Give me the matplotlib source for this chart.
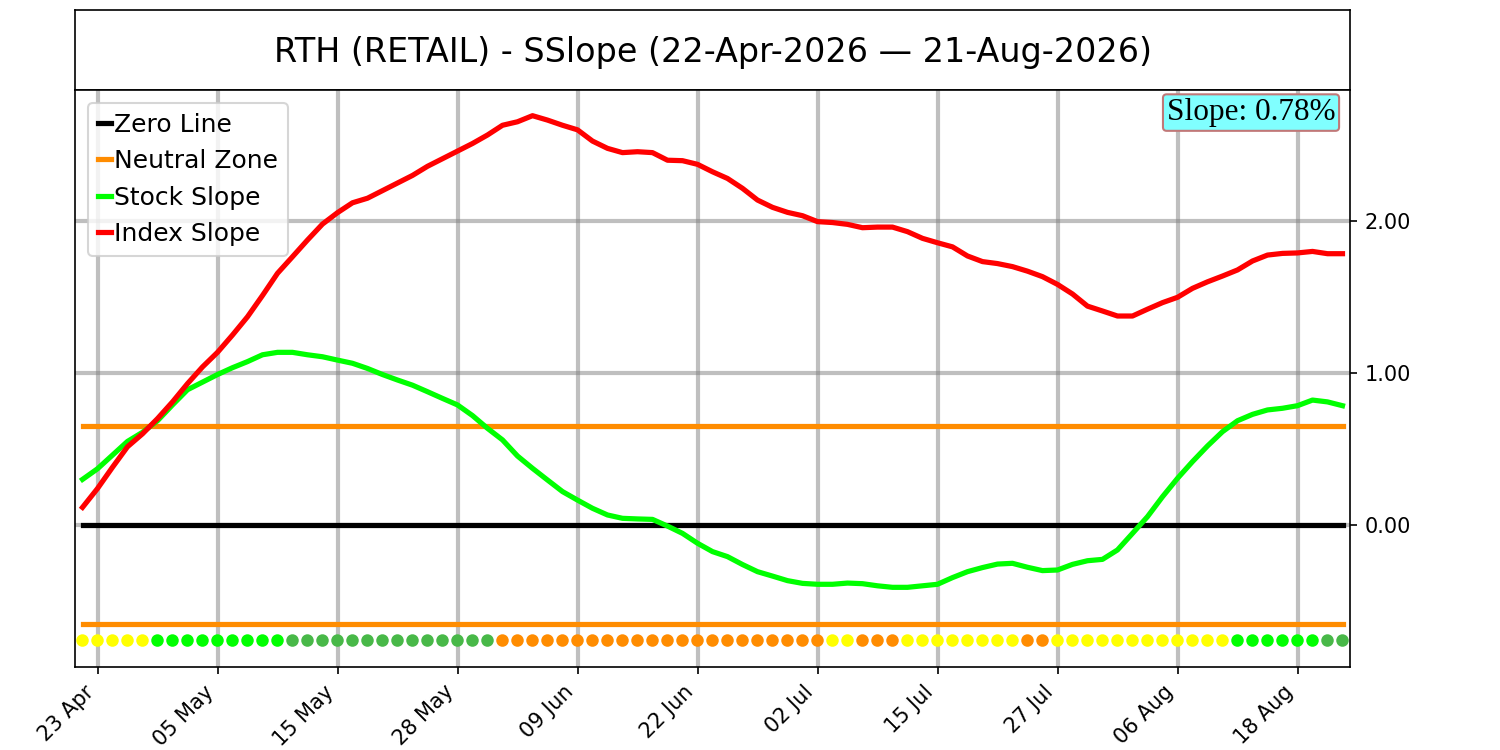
import numpy as np
import matplotlib
matplotlib.use("Agg")
import matplotlib.pyplot as plt

# trading days 22-Apr-2026 .. 21-Aug-2026 (85 sessions), ticks every 8 sessions
tick_labels = ['23 Apr', '05 May', '15 May', '28 May', '09 Jun', '22 Jun',
               '02 Jul', '15 Jul', '27 Jul', '06 Aug', '18 Aug']

stock_slope = [0.30, 0.37, 0.46, 0.55, 0.61, 0.686, 0.79, 0.89, 0.94, 0.99,
               1.035, 1.075, 1.12, 1.136, 1.136, 1.12, 1.107, 1.085, 1.064, 1.03,
               0.99, 0.954, 0.92, 0.877, 0.833, 0.79, 0.72, 0.636, 0.56, 0.454,
               0.373, 0.296, 0.22, 0.164, 0.11, 0.066, 0.044, 0.04, 0.037, -0.007,
               -0.055, -0.12, -0.175, -0.208, -0.26, -0.307, -0.336, -0.366, -0.384, -0.39,
               -0.39, -0.382, -0.386, -0.40, -0.41, -0.41, -0.40, -0.39, -0.346, -0.307,
               -0.28, -0.257, -0.252, -0.278, -0.30, -0.296, -0.259, -0.235, -0.226, -0.164,
               -0.055, 0.055, 0.186, 0.307, 0.417, 0.52, 0.614, 0.686, 0.728, 0.757,
               0.768, 0.785, 0.822, 0.81, 0.785]

index_slope = [0.116, 0.24, 0.38, 0.515, 0.60, 0.70, 0.81, 0.93, 1.04, 1.136,
               1.25, 1.37, 1.51, 1.656, 1.765, 1.875, 1.98, 2.055, 2.12, 2.15,
               2.20, 2.25, 2.30, 2.36, 2.41, 2.46, 2.51, 2.566, 2.63, 2.653,
               2.693, 2.664, 2.63, 2.60, 2.526, 2.478, 2.45, 2.456, 2.45, 2.40,
               2.397, 2.373, 2.324, 2.28, 2.215, 2.138, 2.09, 2.057, 2.035, 1.996,
               1.99, 1.978, 1.956, 1.96, 1.96, 1.93, 1.886, 1.857, 1.83, 1.77,
               1.733, 1.72, 1.70, 1.67, 1.634, 1.583, 1.52, 1.44, 1.408, 1.375,
               1.375, 1.42, 1.463, 1.498, 1.557, 1.60, 1.638, 1.678, 1.737, 1.776,
               1.787, 1.79, 1.80, 1.785, 1.785]

neutral_zone = 0.65
dot_level = -0.76
signal_runs = [('yellow', 5), ('lime', 9), ('#48b848', 14), ('darkorange', 22),
               ('yellow', 2), ('darkorange', 3), ('yellow', 8), ('darkorange', 2),
               ('yellow', 12), ('lime', 6), ('#48b848', 2)]

x = np.arange(len(stock_slope))
dot_colors = [c for c, n in signal_runs for _ in range(n)]

fig = plt.figure(figsize=(10, 5), dpi=150)

# title box
tax = fig.add_axes([0.05, 0.88, 0.85, 0.1067])
tax.set_xticks([])
tax.set_yticks([])
tax.text(0.5, 0.47, 'RTH (RETAIL) - SSlope (22-Apr-2026 \u2014 21-Aug-2026)',
         ha='center', va='center', fontsize=16, transform=tax.transAxes)

ax = fig.add_axes([0.05, 0.1107, 0.85, 0.7693])
lw = 2.5
ax.plot(x, np.zeros(len(x)), color='black', lw=lw, label='Zero Line')
ax.plot(x, np.full(len(x), neutral_zone), color='darkorange', lw=lw, label='Neutral Zone')
ax.plot(x, np.full(len(x), -neutral_zone), color='darkorange', lw=lw)
ax.plot(x, stock_slope, color='lime', lw=lw, label='Stock Slope')
ax.plot(x, index_slope, color='red', lw=lw, label='Index Slope')
ax.scatter(x, np.full(len(x), dot_level), c=dot_colors, s=25, zorder=3)

ax.set_xlim(-0.5, len(x) - 0.5)
ax.set_ylim(-0.934, 2.862)
ax.set_xticks(x[1::8])
ax.set_xticklabels(tick_labels, rotation=45, ha='right')
ax.set_yticks([0, 1, 2])
ax.set_yticklabels(['0.00', '1.00', '2.00'])
ax.yaxis.tick_right()
ax.grid(True, color='gray', alpha=0.5, linewidth=2)
ax.set_axisbelow(True)

ax.legend(loc='upper left', fontsize=12, handlelength=0.55, handletextpad=0.1,
          labelspacing=0.5, borderpad=0.4)

ax.text(0.9885, 0.986, 'Slope: 0.78%', transform=ax.transAxes, ha='right', va='top',
        fontsize=15, family='Liberation Serif',
        bbox=dict(boxstyle='round,pad=0.12', facecolor='#80ffff', edgecolor='#c07878'))

fig.savefig('out.png')
